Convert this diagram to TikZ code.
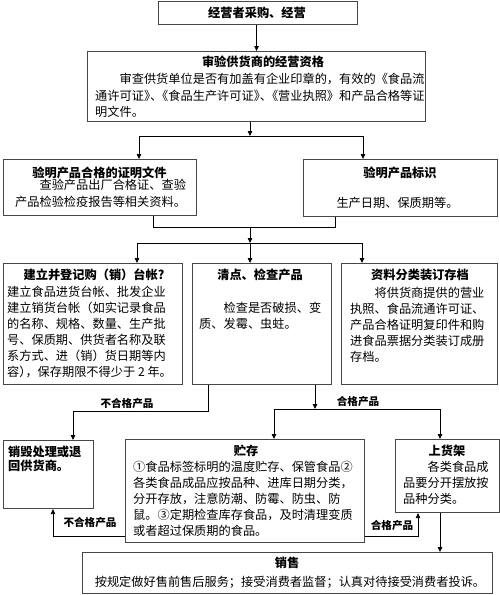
\documentclass[tikz,border=0pt]{standalone}
\usepackage{fontspec}
\setmainfont{Noto Sans CJK SC}
\usetikzlibrary{arrows.meta}
\newcommand\pk{\kern-.5em}
\newcommand\ind{\hspace*{2em}}
\tikzset{
  box/.style={draw=black!72, line width=1.1pt, inner sep=0pt, anchor=north west},
  conn/.style={draw=black, line width=0.8pt},
  arr/.style={conn, -{Triangle[length=5pt,width=4.5pt]}},
  txt/.style={inner sep=0pt, anchor=base west, align=left, font=\fontsize{12.2}{16}\selectfont},
  ctxt/.style={inner sep=0pt, anchor=base, font=\fontsize{12.2}{16}\selectfont},
  ttl/.style={inner sep=0pt, anchor=base, font=\fontsize{12.2}{16}\selectfont\bfseries},
  lbl/.style={inner sep=0pt, anchor=base, font=\fontsize{10.6}{12}\selectfont\bfseries}
}
\begin{document}
\begin{tikzpicture}[x=1pt,y=-1pt]
\useasboundingbox[fill=white] (0,0) rectangle (500,595);
% boxes
\node[box, minimum width=199pt, minimum height=23pt] (b1) at (158,1) {};
\node[box, minimum width=338pt, minimum height=70pt] (b2) at (87,51) {};
\node[box, minimum width=193pt, minimum height=56pt] (b3L) at (3,159) {};
\node[box, minimum width=194pt, minimum height=57pt] (b3R) at (303,159) {};
\node[box, minimum width=179pt, minimum height=121pt] (bA) at (3,263) {};
\node[box, minimum width=139pt, minimum height=121pt] (bB) at (192,263) {};
\node[box, minimum width=156pt, minimum height=121pt] (bC) at (341,263) {};
\node[box, minimum width=90pt, minimum height=68pt] (bD) at (3,440) {};
\node[box, minimum width=239pt, minimum height=103pt] (bE) at (125,439) {};
\node[box, minimum width=104pt, minimum height=73pt] (bF) at (395,439) {};
\node[box, minimum width=410pt, minimum height=41pt] (bG) at (82,552) {};
% texts (multi-line nodes: base = last line's baseline)
\node[ttl] (t1) at (257,17.6) {经营者采购、经营};
\node[ttl] (t2) at (263,66.6) {审验供货商的经营资格};
\node[txt, font=\fontsize{12.2}{16.5}\selectfont] (x2) at (95,116.6) {\ind 审查供货单位是否有加盖有企业印章的，有效的《食品流\\通许可证》\pk 、\pk 《食品生产许可证》\pk 、\pk 《营业执照》和产品合格等证\\明文件。};
\node[ttl] (t3L) at (99.5,177.6) {验明产品合格的证明文件};
\node[txt, font=\fontsize{12.2}{17}\selectfont] (x3L) at (15,206.6) {\ind 查验产品出厂合格证、查验\\产品检验检疫报告等相关资料。};
\node[ttl] (t3R) at (400,177.6) {验明产品标识};
\node[ctxt] (x3R) at (397.5,207.6) {生产日期、保质期等。};
\node[ttl] (tA) at (94,279.6) {建立并登记购（销）台帐?};
\node[txt] (xA) at (7,376.6) {建立食品进货台帐、批发企业\\建立销货台帐（如实记录食品\\的名称、规格、数量、生产批\\号、保质期、供货者名称及联\\系方式、进（销）货日期等内\\容）\pk ，保存期限不得少于 2 年。};
\node[ttl] (tB) at (260,279.6) {清点、检查产品};
\node[txt] (xB) at (199,328.1) {\ind 检查是否破损、变\\质、发霉、虫蛀。};
\node[ttl] (tC) at (420,279.6) {资料分类装订存档};
\node[txt] (xC) at (350,361.6) {\ind 将供货商提供的营业\\执照、食品流通许可证、\\产品合格证明复印件和购\\进食品票据分类装订成册\\存档。};
\node[txt, font=\fontsize{12.2}{14.5}\selectfont\bfseries] (xD) at (8,470.6) {销毁处理或退\\回供货商。};
\node[ttl] (tE) at (246,455.6) {贮存};
\node[txt] (xE) at (133,535.6) {①食品标签标明的温度贮存、保管食品②\\各类食品成品应按品种、进库日期分类，\\分开存放，注意防潮、防霉、防虫、防\\鼠。③定期检查库存食品，及时清理变质\\或者超过保质期的食品。};
\node[ttl] (tF) at (447,455.6) {上货架};
\node[txt] (xF) at (403,503.6) {\ind 各类食品成\\品要分开摆放按\\品种分类。};
\node[ttl] (tG) at (287,567.6) {销售};
\node[ctxt] (xG) at (290,586.6) {按规定做好售前售后服务；接受消费者监督；认真对待接受消费者投诉。};
% connectors
\draw[arr] (b2.north |- b1.south) -- (b2.north);
\coordinate (j1) at (250,136);
\coordinate (j1l) at (139,136);
\coordinate (j1r) at (363,136);
\draw[arr] (b2.south -| j1) -- (j1);
\draw[conn] (j1l) -- (j1r);
\draw[arr] (j1l) -- (j1l |- b3L.north);
\draw[arr] (j1r) -- (j1r |- b3R.north);
\coordinate (k1) at (153,227);
\coordinate (k2) at (335,227);
\coordinate (j2) at (250,227);
\coordinate (j3) at (250,243);
\coordinate (m1) at (137,243);
\coordinate (m3) at (362,243);
\draw[conn] (k1 |- b3L.south) -- (k1) -- (k2) -- (k2 |- b3R.south);
\draw[arr] (j2) -- (j3);
\draw[conn] (m1) -- (m3);
\draw[arr] (m1) -- (m1 |- bA.north);
\draw[arr] (j3) -- (j3 |- bB.north);
\draw[arr] (m3) -- (m3 |- bC.north);
\coordinate (n1) at (208,411);
\coordinate (n2) at (73,411);
\draw[arr] (n1 |- bB.south) -- (n1) -- (n2) -- (n2 |- bD.north);
\node[lbl] (l1) at (127,407) {不合格产品};
\coordinate (p0) at (315,409);
\coordinate (p1) at (274,409);
\coordinate (p2) at (440,409);
\draw[arr] (p0 |- bB.south) -- (p0);
\draw[conn] (p1) -- (p2);
\draw[arr] (p1) -- (p1 |- bE.north);
\draw[arr] (p2) -- (p2 |- bF.north);
\node[lbl] (l2) at (358,405) {合格产品};
\coordinate (q1) at (53,536);
\draw[arr] (bE.west |- q1) -- (q1) -- (q1 |- bD.south);
\node[lbl] (l3) at (90,526) {不合格产品};
\coordinate (q2) at (418,536);
\draw[arr] (bE.east |- q2) -- (q2) -- (q2 |- bF.south);
\node[lbl] (l4) at (392,529) {合格产品};
\draw[arr] (p2 |- bF.south) -- (p2 |- bG.north);
\end{tikzpicture}
\end{document}
